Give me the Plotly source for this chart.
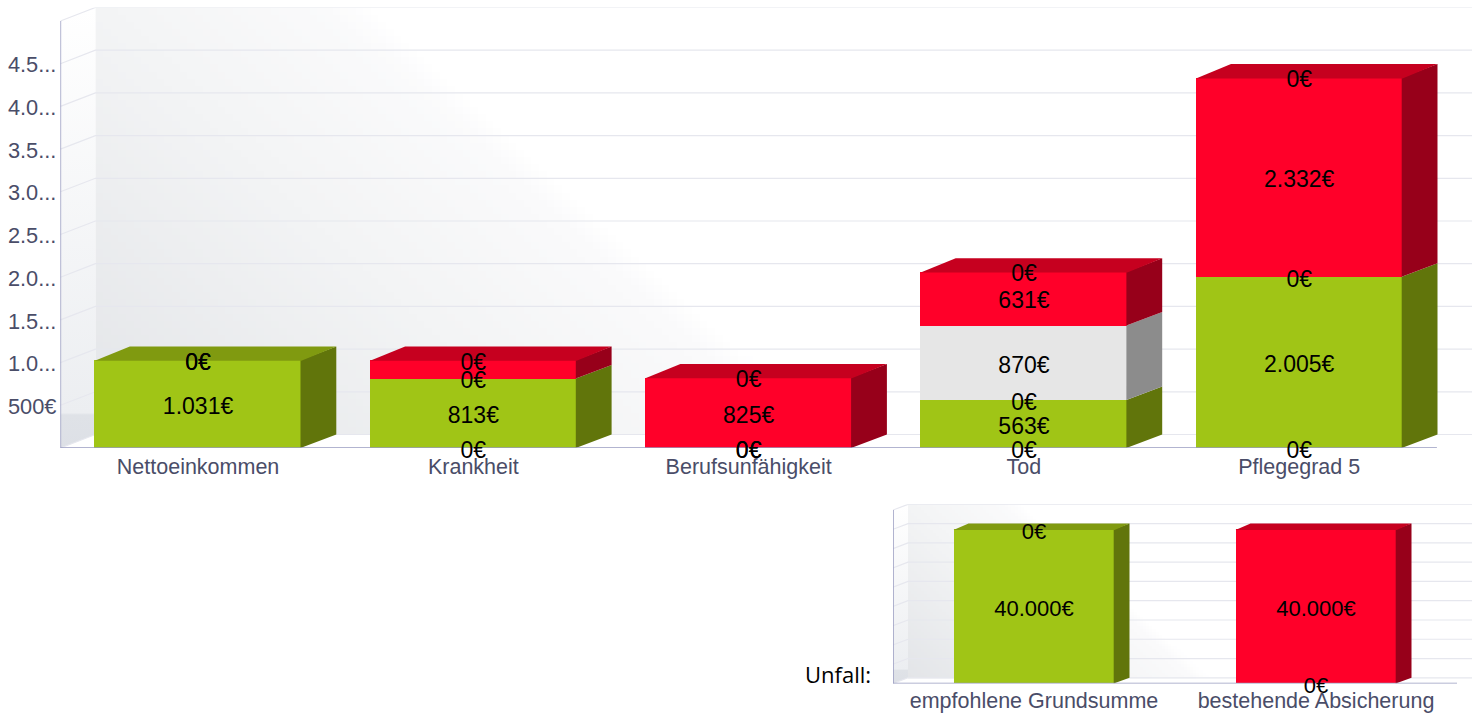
import numpy as np
import plotly.graph_objects as go

# ---- data: main chart
categories = ["Nettoeinkommen", "Krankheit", "Berufsunfähigkeit", "Tod", "Pflegegrad 5"]
green_values = [1031, 813, 0, 563, 2005]
gray_values = [0, 0, 0, 870, 0]
red_values = [0, 218, 825, 631, 2332]
green_labels = ["1.031€", "813€", None, "563€", "2.005€"]
gray_labels = [None, None, None, "870€", None]
red_labels = [None, None, "825€", "631€", "2.332€"]
base_zero = [False, True, True, True, True]
y_tick_values = [500, 1000, 1500, 2000, 2500, 3000, 3500, 4000, 4500]
y_tick_labels = ["500€", "1.0...", "1.5...", "2.0...", "2.5...", "3.0...", "3.5...", "4.0...", "4.5..."]
grid_values = [0, 500, 1000, 1500, 2000, 2500, 3000, 3500, 4000, 4500, 5000]

# ---- data: accident chart
accident_categories = ["empfohlene Grundsumme", "bestehende Absicherung"]
accident_green = [40000, 0]
accident_red = [0, 40000]
accident_grid = [0, 5000, 10000, 15000, 20000, 25000, 30000, 35000, 40000, 45000]
accident_label = "40.000€"
zero_label = "0€"

# ---- styles
W, H = 1480, 713
GREEN = ("#a0c516", "#61750b", "#809a10")
GRAY = ("#e6e6e6", "#8c8c8c", "#b0b0b0")
RED = ("#ff0029", "#97001a", "#c6001f")
AXIS = "#989bc0"
GRIDC = "#e6e7ee"
TICKC = "#4a4d68"
FONT = "Liberation Sans, Arial, sans-serif"
LABEL_SIZE = 23
TICK_SIZE = 21.5
LABEL_DROP_PX = 4
LABEL_PAD_PX = 10
SEAM_PX = 0.8
VAL_PX_MAIN = 0.0854
VAL_PX_ACC = 0.003855

fig = go.Figure()


def poly(xs, ys, color, xa, ya):
    fig.add_trace(go.Scatter(x=xs, y=ys, mode="lines", fill="toself", fillcolor=color,
                             line=dict(width=0), hoverinfo="skip", showlegend=False,
                             xaxis=xa, yaxis=ya))


def chart(xa, ya, xb, yb, left, right, top, base, unit_px, val_px, dep_px, up_px, bar_px,
          n, stacks, grid, axis_top):
    """Draw walls, grid, bars. stacks = list of (values, colours)."""
    xmin = -0.5
    xmax = xmin + (right - left) / unit_px
    ymax = (base - top) / val_px
    dx, dy = dep_px / unit_px, up_px / val_px
    width = bar_px / unit_px
    x_wall = xmin + dx

    # back wall gradient (diagonal, fades to white)
    ux = np.linspace(0, 1, 181)
    vy = np.linspace(0, 1, 61)
    uc, vc = (ux[:-1] + ux[1:]) / 2, (vy[:-1] + vy[1:]) / 2
    U, V = np.meshgrid(uc, vc)
    Z = np.clip(-1.862 * (U - 0.2) + 0.628 * V, 0, 1)
    fig.add_trace(go.Heatmap(x=x_wall + ux * (xmax - x_wall), y=ymax - vy * (ymax - dy), z=Z,
                             zmin=0, zmax=1, showscale=False, hoverinfo="skip",
                             colorscale=[[0, "#ffffff"], [0.06, "#fafafb"], [0.37, "#f3f4f5"], [1, "#e3e5e8"]],
                             xaxis=xa, yaxis=ya))
    # left wall
    fig.add_trace(go.Scatter(x=[xmin, x_wall, x_wall, xmin, xmin],
                             y=[0, dy, grid[-1] + dy, grid[-1], 0],
                             mode="lines", fill="toself", line=dict(width=0), hoverinfo="skip",
                             showlegend=False, xaxis=xa, yaxis=ya,
                             fillgradient=dict(type="vertical",
                                               colorscale=[[0, "#dde0e6"], [0.075, "#dfe2e7"], [0.08, "#eceef1"], [1, "#ffffff"]])))
    # grid
    gx, gy = [], []
    for g in grid:
        gx += [xmin, x_wall, xmax, None]
        gy += [g, g + dy, g + dy, None]
    fig.add_trace(go.Scatter(x=gx, y=gy, mode="lines", line=dict(color=GRIDC, width=1.2),
                             hoverinfo="skip", showlegend=False, xaxis=xa, yaxis=ya))

    # bars
    idx = list(range(n))
    for values, cols in stacks:
        fig.add_trace(go.Bar(x=idx, y=values, width=width, marker=dict(color=cols[0], line=dict(width=0)),
                             hoverinfo="skip", showlegend=False, xaxis=xb, yaxis=yb))
    fronts = np.zeros(n)
    seam_x, seam_y = SEAM_PX / unit_px, SEAM_PX / val_px
    for values, cols in stacks:
        sx, sy = [], []
        for i, v in enumerate(values):
            if v:
                b, t = fronts[i], fronts[i] + v
                r = i + width / 2 - seam_x
                sx += [r, r + dx + seam_x, r + dx + seam_x, r, r, None]
                sy += [b, b + dy, t + dy, t, b, None]
        poly(sx, sy, cols[1], xb, yb)
        fronts = fronts + np.array(values)
    # top faces: colour of uppermost segment; the seam closes the hairline to the snapped bar top
    for i in range(n):
        col = [c for v, c in stacks if v[i]][-1]
        l, r, t = i - width / 2, i + width / 2, fronts[i]
        poly([l, l + dx, r + dx, r, l], [t - seam_y, t + dy, t + dy, t - seam_y, t - seam_y], col[2], xb, yb)

    # axis lines
    fig.add_trace(go.Scatter(x=[xmin, xmin, None, xmin, xmin + n],
                             y=[axis_top, 0, None, 0, 0], mode="lines",
                             line=dict(color=AXIS, width=1.5), hoverinfo="skip", showlegend=False,
                             cliponaxis=False, xaxis=xb, yaxis=yb))

    dom_x = [left / W, right / W]
    dom_y = [(H - base) / H, (H - top) / H]
    # separate hidden subplot for data labels, reaching a little below the baseline
    lab_y = dict(domain=[(H - base - LABEL_PAD_PX) / H, dom_y[1]],
                 range=[-LABEL_PAD_PX / val_px, ymax])
    return dict(x=dict(domain=dom_x, range=[xmin, xmax]), y=dict(domain=dom_y, range=[0, ymax]), ly=lab_y)


def labels(xs, ys, texts, xb, yb, size, val_px):
    shifted = [v - LABEL_DROP_PX / val_px for v in ys]
    fig.add_trace(go.Scatter(x=xs, y=shifted, text=texts, mode="text", textposition="middle center",
                             textfont=dict(family=FONT, size=size, color="#000000"),
                             cliponaxis=False, hoverinfo="skip", showlegend=False, xaxis=xb, yaxis=yb))


g1 = chart("x", "y", "x2", "y2", 60.4, 1472, 7.5, 448, 275.3, VAL_PX_MAIN, 35, 13.5, 206.5, 5,
           [(green_values, GREEN), (gray_values, GRAY), (red_values, RED)], grid_values, 5000)
g2 = chart("x3", "y3", "x4", "y4", 893, 1472, 504.3, 683.5, 282, VAL_PX_ACC, 15, 5.7, 161, 2,
           [(accident_green, GREEN), (accident_red, RED)], accident_grid, 45000)

# main labels
gr, gy_, rd = map(np.array, (green_values, gray_values, red_values))
total = gr + gy_ + rd
lx, ly, lt = [], [], []
for i in range(5):
    if base_zero[i]:
        lx.append(i); ly.append(0); lt.append(zero_label)
    lx.append(i); ly.append(int(gr[i])); lt.append(zero_label)
    lx.append(i); ly.append(int(total[i])); lt.append(zero_label)
    if green_labels[i]:
        lx.append(i); ly.append(gr[i] / 2); lt.append(green_labels[i])
    if gray_labels[i]:
        lx.append(i); ly.append(gr[i] + gy_[i] / 2); lt.append(gray_labels[i])
    if red_labels[i]:
        lx.append(i); ly.append(gr[i] + gy_[i] + rd[i] / 2); lt.append(red_labels[i])
labels(lx, ly, lt, "x5", "y5", LABEL_SIZE, VAL_PX_MAIN)

# accident labels
labels([0, 0, 1, 1], [accident_green[0], accident_green[0] / 2, accident_red[1] / 2, 0],
       [zero_label, accident_label, accident_label, zero_label], "x6", "y6", 22, VAL_PX_ACC)

tickf = dict(family=FONT, size=TICK_SIZE, color=TICKC)
hidden = dict(visible=False, showgrid=False, zeroline=False, fixedrange=True)
fig.update_layout(
    width=W, height=H, margin=dict(l=0, r=0, t=0, b=0, autoexpand=False),
    paper_bgcolor="#ffffff", plot_bgcolor="rgba(0,0,0,0)", barmode="stack", bargap=0,
    showlegend=False,
    xaxis=dict(**g1["x"], tickmode="array", tickvals=list(range(5)), ticktext=categories,
               tickfont=tickf, showgrid=False, zeroline=False, showline=False, ticks="", anchor="y",
               layer="below traces", ticklabelstandoff=3),
    yaxis=dict(**g1["y"], tickmode="array", tickvals=y_tick_values, ticktext=y_tick_labels,
               tickfont=dict(family=FONT, size=21.8, color=TICKC),
               showgrid=False, zeroline=False, showline=False, ticks="", anchor="x",
               ticklabelstandoff=3, ticklabelshift=1),
    xaxis2=dict(**g1["x"], overlaying="x", anchor="y2", **hidden),
    yaxis2=dict(**g1["y"], overlaying="y", anchor="x2", **hidden),
    xaxis3=dict(**g2["x"], tickmode="array", tickvals=[0, 1], ticktext=accident_categories,
                tickfont=tickf, showgrid=False, zeroline=False, showline=False, ticks="", anchor="y3",
                layer="below traces", ticklabelstandoff=2),
    yaxis3=dict(**g2["y"], showticklabels=False, showgrid=False, zeroline=False, showline=False,
                ticks="", anchor="x3"),
    xaxis4=dict(**g2["x"], overlaying="x3", anchor="y4", **hidden),
    yaxis4=dict(**g2["y"], overlaying="y3", anchor="x4", **hidden),
    xaxis5=dict(**g1["x"], anchor="y5", **hidden),
    yaxis5=dict(**g1["ly"], anchor="x5", **hidden),
    xaxis6=dict(**g2["x"], anchor="y6", **hidden),
    yaxis6=dict(**g2["ly"], anchor="x6", **hidden),
    annotations=[dict(text="Unfall:", x=838 / W, y=(H - 674) / H, xref="paper", yref="paper",
                      xanchor="center", yanchor="middle", showarrow=False,
                      font=dict(family="Open Sans, sans-serif", size=22, color="#000000"))],
)
fig.write_html("out.html", post_script="document.body.style.margin='0';",
               config={"displayModeBar": False})
